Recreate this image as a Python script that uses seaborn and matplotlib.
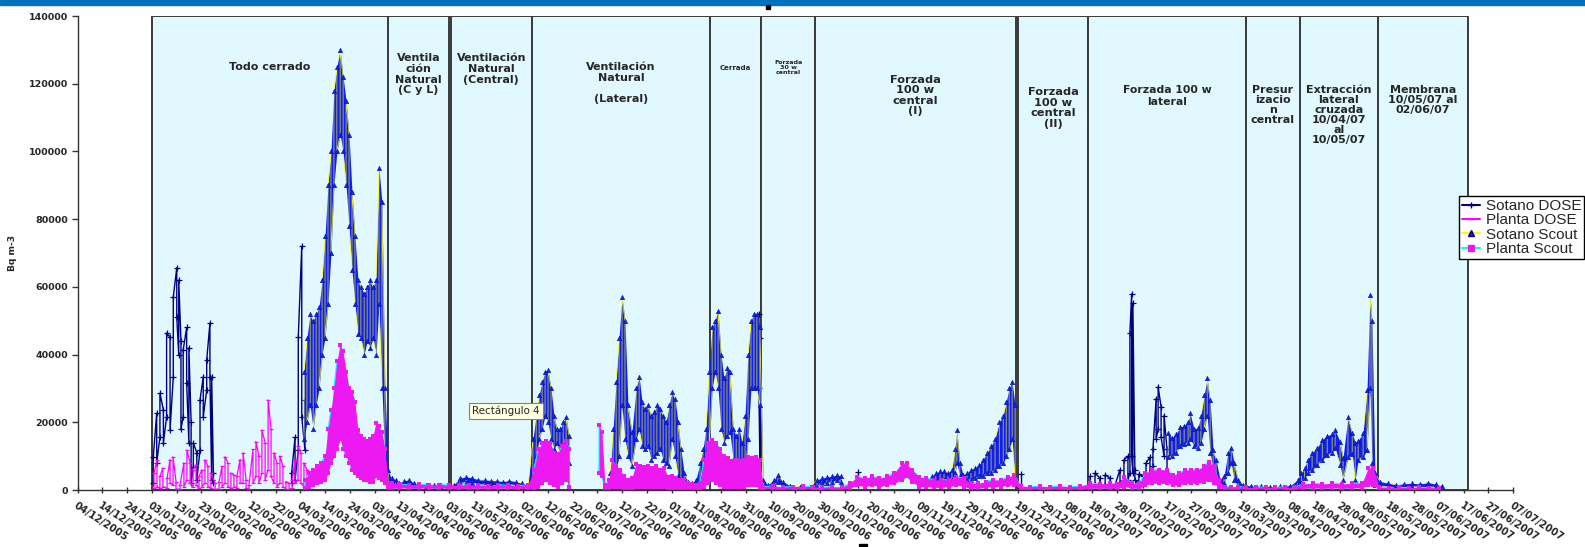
import matplotlib
matplotlib.use('Agg')
import numpy as np
import pandas as pd
import matplotlib.pyplot as plt
from matplotlib.lines import Line2D
from matplotlib.transforms import ScaledTranslation
import seaborn as sns

sns.set_style('white')
plt.rcParams['font.family'] = ['DejaVu Sans']

# eje temporal: dias desde el 04/12/2005
START = pd.Timestamp('2005-12-04')
END = pd.Timestamp('2007-07-07')

sotano_dose_dia = [30.6, 32.0, 33.3, 34.7, 36.0, 37.4, 38.7, 40.1, 40.9, 41.8, 42.7, 44.1, 45.0, 45.9,
                   46.8, 48.2, 49.5, 50.8, 52.2, 53.5, 54.2, 54.9,
                   86.5, 87.9, 89.2, 90.6, 91.9,
                   275.3, 275.8,
                   315.4,
                   381.0,
                   409.1, 411.1, 413.1, 415.2, 417.2, 419.2, 421.2, 422.8, 424.4, 425.2, 425.9, 426.4,
                   427.2, 428.8, 430.5, 431.7, 433.3, 434.5, 435.8, 436.6, 437.8, 439.0, 440.2]
sotano_dose_min = [2.0, 8.0, 15.6, 13.9, 21.6, 17.7, 33.4, 51.0, 40.0, 18.0, 21.6, 31.6, 14.0, 2.0,
                   6.8, 3.0, 11.8, 21.6, 29.5, 33.4, 3.0, 2.0,
                   2.0, 3.0, 11.8, 21.6, 11.8,
                   30.0, 3.0,
                   1.5,
                   0.5,
                   1.0, 1.5, 1.0, 1.5, 1.0, 0.5, 2.0, 3.0, 3.0, 5.0, 10.0, 5.0,
                   3.0, 1.5, 1.5, 5.0, 5.0, 7.0, 15.0, 18.0, 15.6, 10.0, 4.4]
sotano_dose_max = [9.7, 22.7, 28.6, 23.6, 46.4, 45.2, 57.0, 65.6, 62.0, 44.0, 41.4, 48.0, 42.0, 20.0,
                   13.9, 11.0, 26.6, 33.4, 38.4, 49.3, 33.4, 5.0,
                   5.0, 15.6, 45.2, 72.0, 26.6,
                   52.0, 45.0,
                   5.3,
                   4.7,
                   4.0, 5.0, 3.5, 4.5, 3.5, 1.5, 6.0, 8.9, 10.0, 46.4, 57.9, 55.2,
                   6.0, 4.7, 4.0, 8.0, 9.7, 12.0, 27.0, 30.5, 24.6, 22.0, 12.0]

planta_dose_dia = [30.9, 32.1, 33.3, 34.5, 36.2, 37.4, 38.6, 39.8, 41.4, 43.0, 44.2, 45.5, 46.7, 47.9,
                   49.1, 50.3, 51.5, 52.7, 53.9, 55.6, 57.2, 58.4, 59.6, 60.8, 62.0, 63.2, 64.4, 65.7,
                   66.9, 68.1, 69.3, 70.9, 72.1, 73.3, 74.5, 75.8, 77.0, 78.2, 79.4, 80.6, 81.8, 83.0,
                   84.2, 85.5, 86.7, 87.9, 89.1, 90.3, 91.5, 92.7]
planta_dose_min = [0.5, 1.0, 0.5, 1.0, 0.5, 2.0, 1.5, 0.3, 0.2, 1.0, 3.0, 2.0, 1.0, 1.5,
                   0.5, 1.0, 2.0, 1.0, 0.5, 0.2, 0.3, 1.0, 2.0, 1.0, 0.5, 1.0, 0.5, 2.0,
                   2.0, 0.5, 0.2, 2.0, 4.0, 2.0, 5.0, 3.0, 6.0, 4.0, 2.0, 1.0, 2.0, 1.0,
                   0.3, 0.2, 0.5, 2.0, 3.0, 2.0, 1.0, 0.5]
planta_dose_max = [5.0, 8.8, 4.0, 6.5, 3.5, 9.0, 9.8, 2.5, 1.5, 8.0, 11.8, 8.0, 6.0, 7.4,
                   4.0, 6.0, 8.9, 7.0, 5.0, 2.0, 2.5, 7.0, 9.8, 8.0, 5.0, 4.5, 4.0, 9.0,
                   11.0, 3.0, 1.5, 12.0, 14.3, 10.0, 17.7, 14.0, 26.6, 18.0, 11.0, 8.0, 10.0, 7.0,
                   2.5, 2.0, 3.0, 9.0, 13.0, 11.0, 8.0, 6.0]

sotano_scout_dia = [91.5, 92.7, 94.0, 95.2, 96.4, 97.6, 98.8, 100.0, 101.2, 102.4, 103.6, 104.8, 106.1,
                    107.3, 108.5, 109.7, 110.9, 112.1, 113.3, 114.5, 115.8, 117.0, 118.2, 119.4, 120.6,
                    121.8, 123.0, 124.2, 125.5,
                    127.0, 128.5, 130.0, 132.0, 134.0, 136.0, 138.0, 141.0, 144.0, 147.0, 149.5,
                    152.0, 154.5, 157.0, 159.5, 162.0, 164.5, 167.0, 169.5, 172.0, 174.5, 177.0, 179.5, 182.0,
                    184.0, 185.3, 186.5, 187.7, 188.9, 190.1, 191.3, 192.5, 193.7, 194.9, 196.2, 197.4, 198.6,
                    215.2, 216.4, 217.6, 218.8, 220.0, 221.2, 222.4, 224.0, 225.7, 226.9, 228.1, 229.3,
                    230.5, 231.7, 232.9, 234.1, 235.4, 236.6, 237.8, 239.0, 240.2, 241.4, 242.6, 243.8,
                    245.1, 246.7, 248.3, 249.9, 251.5, 252.7, 253.9, 255.2,
                    256.4, 257.6, 258.8, 260.0, 261.2, 262.4, 263.6, 264.9, 266.1, 267.3, 268.5, 269.7,
                    270.9, 272.1, 273.3, 274.5, 275.7,
                    277.0, 279.0, 281.4, 283.0, 285.0, 288.0, 292.0, 296.0,
                    298.8, 300.8, 302.8, 304.8, 306.9, 308.5,
                    345.2, 346.8, 348.5, 350.1, 351.7, 353.3, 354.5, 355.3, 356.5, 357.8, 359.4, 361.0,
                    362.6, 364.3, 365.9, 367.5, 369.1, 370.7, 372.4, 374.0, 375.2, 376.4, 377.6, 378.8,
                    440.6, 442.2, 443.8, 445.5, 447.1, 448.7, 449.5, 451.1, 452.7, 453.9, 455.2, 456.4,
                    457.6, 458.8, 460.0, 461.6, 463.2, 464.8, 466.1, 467.3, 468.9, 470.9,
                    474.0, 478.0, 482.0, 486.0, 490.0, 493.0,
                    494.5, 495.8, 497.0, 498.8, 500.8, 502.9, 504.9, 506.9, 508.1, 510.1, 511.3, 513.3,
                    515.0, 516.2, 517.4, 519.4, 521.0, 522.2, 523.0, 524.2,
                    526.3, 529.5, 532.8, 536.0, 539.2, 542.4, 545.7, 548.9, 551.3]
sotano_scout_min = [15, 20, 25, 18, 25, 30, 40, 45, 55, 70, 90, 100, 105,
                    100, 90, 78, 65, 55, 46, 45, 40, 44, 42, 45, 40,
                    55, 30, 8, 2,
                    1.5, 1.5, 0.8, 1.5, 1.5, 1.0, 0.7, 0.8, 0.7, 0.8, 0.8,
                    0.5, 2.0, 2.2, 2.0, 1.8, 1.8, 1.5, 1.5, 1.5, 1.6, 1.4, 1.0, 0.8,
                    3, 10, 15, 18, 22, 20, 15, 12, 14, 10, 12, 10, 8,
                    1, 3, 6, 10, 25, 15, 10, 7, 15, 18, 13, 12,
                    13, 9, 10, 11, 12, 9, 8, 7, 15, 10, 4, 2.5,
                    1, 0.7, 0.6, 1, 2, 3, 6, 12,
                    30, 35, 30, 18, 14, 16, 17, 9, 4, 5, 3, 3,
                    15, 30, 30, 30, 25,
                    1, 0.5, 1.5, 2.5, 1, 0.5, 0.5, 0.5,
                    1, 2, 2, 2.5, 3, 2.5,
                    2, 2.5, 2.5, 3, 3, 3, 5, 8, 4, 2.5, 3, 3,
                    3.5, 4, 4, 5, 5, 6, 7, 8, 10, 12, 15, 3,
                    9.7, 10, 11, 13, 13.5, 14, 15, 13, 12.5, 14, 18, 22,
                    11, 6, 3, 1.5, 2, 5, 8, 3, 1, 0.8,
                    0.7, 0.7, 0.6, 0.7, 0.8, 1.5,
                    2, 3.5, 5, 5.9, 7.4, 8.9, 10.3, 11, 12.4, 7.4, 3, 9.7,
                    10.7, 3, 8.9, 9.7, 11.8, 30, 8, 1.5,
                    1.2, 1, 0.8, 0.8, 1, 0.9, 1, 0.8, 0.7]
sotano_scout_max = [35, 45, 52, 50, 52, 54, 62, 75, 90, 100, 118, 125, 130,
                    122, 115, 105, 88, 75, 62, 60, 58, 60, 62, 60, 62,
                    95, 85, 30, 6,
                    3.5, 3.0, 2.0, 2.8, 3.0, 2.0, 1.5, 1.6, 1.4, 1.5, 1.3,
                    1.5, 3.5, 3.9, 3.6, 3.0, 3.0, 2.8, 2.7, 2.5, 2.8, 2.5, 2.0, 1.5,
                    15, 22, 28, 32, 35, 35.5, 30, 22, 18, 18, 20, 21.5, 16,
                    5, 18, 32, 45, 57, 50, 25, 17, 30, 33.5, 26, 24,
                    25, 22, 23, 25, 24, 22, 20, 25, 29, 27, 20, 12,
                    5, 2.5, 2, 3, 8, 12, 18, 35,
                    48, 50, 53, 40, 33, 36, 35, 18, 16, 18, 14, 22,
                    40, 50, 52, 52, 48,
                    3, 1.5, 3, 4.4, 2.5, 1.2, 1.0, 1.0,
                    3, 3.5, 3.8, 4, 4.5, 4,
                    4, 5, 5.5, 5.5, 5, 6, 12, 17.7, 8, 4.5, 5, 6,
                    6.5, 7.5, 9, 11, 13, 15, 20, 22, 26, 30, 32, 25,
                    16.8, 15.5, 16.5, 18.5, 19, 20, 22.7, 18, 18.3, 22, 28, 33,
                    26.6, 11.7, 9, 3, 4, 11, 12.4, 8, 3, 1.5,
                    1.2, 1.1, 1.0, 1.1, 1.3, 3,
                    5, 6.5, 9, 11, 12.4, 14.9, 16, 16.5, 17.7, 14.3, 9.5, 21.6,
                    16.8, 14, 14.6, 16.7, 29.5, 57.6, 50, 5,
                    2.5, 2, 1.6, 1.8, 2, 1.8, 2.2, 1.7, 1.2]

planta_scout_dia = [91.9, 93.5, 95.2, 96.8, 98.4, 100.0, 101.2, 102.4, 103.6, 104.8, 106.1, 107.3, 108.5,
                    109.7, 110.9, 112.1, 113.3, 114.5, 115.8, 117.0, 118.2, 119.4, 120.6, 121.8, 123.0,
                    124.2, 125.5,
                    127.0, 130.0, 134.0, 138.0, 142.0, 146.0, 150.0, 154.0, 158.0, 162.0, 166.0, 170.0,
                    174.0, 178.0, 182.0,
                    184.4, 186.1, 187.7, 189.3, 190.9, 192.5, 194.1, 195.8, 197.4, 198.6,
                    210.7, 211.9, 213.1, 214.7, 215.9, 217.6, 219.2, 220.8, 222.4, 224.0, 225.7, 227.3,
                    228.9, 230.5, 232.1, 233.7, 235.4, 237.0, 238.6, 240.2, 241.8, 243.4, 245.1, 246.7,
                    248.3, 249.9, 251.5, 253.1, 254.7,
                    256.4, 258.0, 259.6, 261.2, 262.8, 264.4, 266.1, 267.7, 269.3, 270.9, 272.5, 274.1, 275.7,
                    277.0, 281.0, 285.0, 289.0, 293.0, 297.0,
                    301.0, 305.0, 309.0, 312.0, 315.0, 318.0, 321.0, 324.0, 327.0, 330.0, 333.0, 335.0,
                    337.0, 340.0, 343.0, 346.0, 349.0, 352.0, 355.0, 358.0, 361.0, 364.0, 367.0, 370.0,
                    373.0, 376.0, 378.5,
                    381.0, 385.0, 389.0, 393.0, 397.0, 401.0, 405.0,
                    409.0, 413.0, 417.0, 420.0, 423.0, 426.0, 429.0, 431.5, 434.0, 437.0, 440.0, 442.5,
                    445.0, 447.5, 450.0, 452.5, 455.0, 457.0, 459.0, 461.0, 463.5, 466.0, 469.0, 472.0,
                    476.0, 480.0, 484.0, 488.0, 492.0,
                    495.0, 499.0, 503.0, 507.0, 511.0, 515.0, 519.0, 521.5, 523.5,
                    526.0, 530.0, 534.0, 538.0, 542.0, 546.0, 550.0]
planta_scout_min = [0.5, 1, 1.5, 2, 2.5, 3, 5, 8, 10, 12, 15, 12, 10,
                    8, 6, 5, 4, 3.5, 3, 3, 2.5, 2.5, 4, 3.5, 3,
                    2, 0.5,
                    0.5, 0.6, 0.5, 0.6, 0.5, 0.6, 0.5, 0.4, 0.5, 0.5, 0.4, 0.5,
                    0.5, 0.4, 0.5,
                    0.3, 1, 2, 3, 2, 1.5, 1, 2, 3, 1,
                    5, 4, 0.3, 0.5, 1, 0.8, 1, 0.5, 0.3, 0.5, 1, 1,
                    0.8, 1, 1, 0.8, 0.8, 1, 0.5, 0.5, 0.4, 0.3, 0.3, 0.3,
                    0.3, 0.3, 0.3, 1, 2,
                    3, 2, 1.5, 1, 1, 1, 1, 1, 1, 1.5, 1.5, 1.5, 0.5,
                    0.3, 0.4, 0.3, 0.3, 0.4, 0.3,
                    0.3, 0.3, 0.3, 0.5, 1.5, 1, 1.5, 1, 1.5, 2, 3, 4,
                    2.5, 1, 1, 0.8, 0.8, 1, 1.5, 1, 0.5, 0.5, 0.8, 1,
                    1, 1.5, 1.5,
                    0.3, 0.3, 0.3, 0.3, 0.3, 0.3, 0.3,
                    0.5, 0.5, 0.5, 0.4, 1, 0.6, 0.5, 1.5, 2, 2, 2, 1.5,
                    1.5, 2, 2, 2, 2.5, 3, 2, 0.8, 0.3, 0.3, 0.3, 0.3,
                    0.3, 0.3, 0.3, 0.3, 0.3,
                    0.5, 0.6, 0.5, 0.6, 0.5, 0.6, 0.6, 1.5, 1.5,
                    0.2, 0.2, 0.2, 0.2, 0.2, 0.2, 0.2]
planta_scout_max = [3, 5, 6, 7, 8, 10, 18, 23.6, 30, 38, 42.8, 41, 35,
                    30, 29, 26, 17.7, 16, 15, 14.5, 15, 16, 19.8, 19, 17,
                    12, 2,
                    2, 1.8, 1.5, 1.7, 1.5, 1.6, 1.5, 1.4, 1.5, 1.4, 1.3, 1.5,
                    1.4, 1.3, 1.5,
                    5.9, 12, 13.8, 14.6, 14, 11, 10.7, 13, 14.6, 12,
                    19.2, 17, 1.5, 3, 8.9, 7, 5.9, 4, 3, 3.5, 7.8, 7,
                    6.9, 7, 6.5, 7, 6, 6.5, 3.9, 4, 3.5, 3, 3, 2,
                    1.8, 1.5, 2, 9, 13.8,
                    14.8, 14, 12, 9.9, 9.5, 8.5, 8.9, 8.5, 8.9, 9.8, 9.5, 9.8, 9,
                    1, 1.2, 0.9, 1.0, 1.1, 0.9,
                    0.9, 1.0, 0.9, 2, 3.9, 3.5, 4, 3.5, 4, 5, 7.9, 7.9,
                    6, 3.9, 3.5, 3, 3, 3, 3.9, 3.5, 2, 2, 2.5, 3,
                    3, 3.9, 4.4,
                    1.2, 1.0, 1.1, 1.0, 1.2, 1.0, 1.1,
                    2, 1.8, 2, 1.8, 3.9, 2, 2, 5, 5.9, 6, 6, 4.4,
                    5, 5.9, 5.9, 6, 7, 8.3, 7, 3, 1, 1, 1, 0.8,
                    0.8, 0.9, 0.8, 0.9, 0.8,
                    1.8, 2, 1.8, 2, 1.8, 2, 2, 6.5, 6.5,
                    0.8, 0.7, 0.8, 0.7, 0.8, 0.7, 0.7]

# periodos de ventilacion (rectangulos del grafico original)
periodo_ini = [30.0, 125.6, 150.8, 183.5, 255.6, 276.2, 298.0, 380.0, 408.3, 472.1, 493.9, 525.4]
periodo_fin = [125.6, 149.9, 183.5, 255.6, 276.2, 298.0, 379.2, 408.3, 472.1, 493.9, 525.4, 561.8]
periodo_txt = ['Todo cerrado',
               'Ventila\nción\nNatural\n(C y L)',
               'Ventilación\nNatural\n(Central)',
               'Ventilación\nNatural\n\n(Lateral)',
               'Cerrada',
               'Forzada\n30 w\ncentral',
               'Forzada\n100 w\ncentral\n(I)',
               'Forzada\n100 w\ncentral\n(II)',
               'Forzada 100 w\nlateral',
               'Presur\nizacio\nn\ncentral',
               'Extracción\nlateral\ncruzada\n10/04/07\nal\n10/05/07',
               'Membrana\n10/05/07 al\n02/06/07']
# altura (Bq m-3), tamano e interlineado de cada rotulo
periodo_txt_y = [126400, 129100, 129100, 126400, 125500, 127000, 122600, 119100, 119600, 119600, 119600, 119600]
periodo_txt_fs = [8.0, 8.0, 8.0, 8.0, 5.0, 4.6, 8.2, 8.2, 7.8, 8.0, 8.0, 8.0]
periodo_txt_ls = [1.1, 1.1, 1.1, 1.1, 1.1, 1.05, 1.05, 1.1, 1.25, 1.0, 1.0, 1.02]


def to_dates(days):
    return START + pd.to_timedelta(np.asarray(days, dtype=float), unit='D')


def tabla(dias, vmin, vmax, hueco=5.0):
    # serie en zigzag entre minimo y maximo; un hueco largo corta la linea
    filas = []
    seg = 0
    for i in range(len(dias)):
        if i > 0 and dias[i] - dias[i - 1] > hueco:
            seg += 1
        par = (vmin[i], vmax[i]) if i % 2 == 0 else (vmax[i], vmin[i])
        for v in par:
            filas.append((dias[i], v * 1000, seg, vmin[i] * 1000, vmax[i] * 1000))
    df = pd.DataFrame(filas, columns=['dia', 'bq', 'seg', 'lo', 'hi'])
    df['fecha'] = to_dates(df['dia'])
    return df


fig = plt.figure(figsize=(15.85, 5.47), dpi=100)
ax = fig.add_axes([0.0489, 0.1042, 0.9057, 0.8665])

# rectangulos de los periodos
for a, b in zip(periodo_ini, periodo_fin):
    ax.axvspan(to_dates([a])[0], to_dates([b])[0], ymin=0, ymax=1,
               facecolor='#e1f8ff', edgecolor='#3a3a3a', lw=1.4, zorder=1)

# Sotano DOSE
sd = tabla(sotano_dose_dia, sotano_dose_min, sotano_dose_max)
sns.lineplot(data=sd, x='fecha', y='bq', units='seg', estimator=None, sort=False,
             color='#000080', lw=1.0, ax=ax, legend=False, zorder=3)
sns.scatterplot(data=sd, x='fecha', y='bq', marker='+', s=18, color='#000080',
                linewidth=0.9, ax=ax, legend=False, zorder=3)

# Planta DOSE
pd_ = tabla(planta_dose_dia, planta_dose_min, planta_dose_max)
sns.lineplot(data=pd_, x='fecha', y='bq', units='seg', estimator=None, sort=False,
             color='#ff00ff', lw=0.9, ax=ax, legend=False, zorder=4)
sns.scatterplot(data=pd_, x='fecha', y='bq', marker='_', s=10, color='#ff00ff',
                linewidth=0.9, ax=ax, legend=False, zorder=4)

# Sotano Scout
ss = tabla(sotano_scout_dia, sotano_scout_min, sotano_scout_max)
for _, g in ss.groupby('seg'):
    ax.fill_between(g['fecha'], g['lo'], g['hi'], color='#0f1ff0', lw=0, zorder=5)
sns.lineplot(data=ss, x='fecha', y='bq', units='seg', estimator=None, sort=False,
             color='#ffff00', lw=0.45, ax=ax, legend=False, zorder=5)
sns.scatterplot(data=ss, x='fecha', y='bq', marker='^', s=11, color='#0f1ff0',
                edgecolor='#0010b0', linewidth=0.3, ax=ax, legend=False, zorder=5)

# Planta Scout
ps = tabla(planta_scout_dia, planta_scout_min, planta_scout_max)
sns.lineplot(data=ps, x='fecha', y='bq', units='seg', estimator=None, sort=False,
             color='#00ffff', lw=0.8, ax=ax, legend=False, zorder=6)
for _, g in ps.groupby('seg'):
    ax.fill_between(g['fecha'], g['lo'], g['hi'], color='#ee18f0', lw=0, zorder=6)
sns.scatterplot(data=ps, x='fecha', y='bq', marker='s', s=10, color='#ee18f0',
                edgecolor='#ee18f0', linewidth=0, ax=ax, legend=False, zorder=6)

# rotulos de los periodos
for a, b, t, y, fs, ls in zip(periodo_ini, periodo_fin, periodo_txt, periodo_txt_y,
                              periodo_txt_fs, periodo_txt_ls):
    xm = to_dates([(a + b) / 2])[0]
    ax.text(xm, y, t, ha='center', va='top', fontsize=fs, fontweight='bold',
            linespacing=ls, zorder=8)

# ejes
ax.set_xlim(START, END)
ax.set_ylim(0, 140000)
ticks = pd.date_range(START, END, freq='10D')
ax.set_xticks(ticks)
ax.set_xticklabels([t.strftime('%d/%m/%Y') for t in ticks], rotation=-33, ha='left',
                   va='top', rotation_mode='anchor', fontsize=7.1, fontweight='bold')
desplaza = ScaledTranslation(0.09, 0, fig.dpi_scale_trans)
for lab in ax.get_xticklabels():
    lab.set_transform(lab.get_transform() + desplaza)
ax.set_yticks(np.arange(0, 140001, 20000))
ax.set_yticklabels([str(v) for v in range(0, 140001, 20000)], fontsize=6.8, fontweight='bold')
ax.set_xlabel('')
ax.set_ylabel('Bq m-3', fontsize=6.6, fontweight='bold')
ax.yaxis.set_label_coords(-0.042, 0.5)
sns.despine(ax=ax)
for s in ['left', 'bottom']:
    ax.spines[s].set_color('#333333')
    ax.spines[s].set_linewidth(1.0)
    ax.spines[s].set_zorder(9)
ax.tick_params(axis='y', left=True, direction='out', length=4, width=1, color='#333333', pad=3)
ax.tick_params(axis='x', bottom=True, direction='inout', length=5, width=1, color='#333333', pad=5)

# cuadro de aviso que aparece en la captura
fig.text(472 / 1585, 1 - 411 / 547, 'Rectángulo 4', fontsize=7.4, va='center', ha='left',
         bbox=dict(boxstyle='square,pad=0.3', facecolor='#ffffe1', edgecolor='#808080', lw=0.8))

# leyenda
handles = [Line2D([], [], color='#000080', marker='+', ms=5, lw=1.5),
           Line2D([], [], color='#ff00ff', marker='_', ms=4, lw=1.5),
           Line2D([], [], color='#ffff00', marker='^', ms=4, mfc='#0f1ff0', mec='#000080', lw=1.5),
           Line2D([], [], color='#00ffff', marker='s', ms=4, mfc='#ee18f0', mec='#ee18f0', lw=1.5)]
fig.legend(handles, ['Sotano DOSE', 'Planta DOSE', 'Sotano Scout', 'Planta Scout'],
           loc='upper left', bbox_to_anchor=(1459 / 1585, 1 - 196 / 547),
           prop={'family': ['Liberation Sans', 'DejaVu Sans'], 'size': 11},
           frameon=True, fancybox=False, edgecolor='black', framealpha=1,
           handlelength=1.2, borderpad=0.2, labelspacing=0.02, handletextpad=0.35,
           borderaxespad=0)

# franja azul superior y marcas sueltas de la diapositiva
fig.add_artist(plt.Rectangle((0, 1 - 5 / 547), 1, 5 / 547, transform=fig.transFigure,
                             color='#0070c0', zorder=10))
fig.add_artist(plt.Rectangle((766 / 1585, 1 - 9 / 547), 4 / 1585, 4 / 547,
                             transform=fig.transFigure, color='black', zorder=10))
fig.add_artist(plt.Rectangle((859 / 1585, 1 - 546 / 547), 8 / 1585, 2 / 547,
                             transform=fig.transFigure, color='black', zorder=10))

fig.savefig('out.png', dpi=100)
